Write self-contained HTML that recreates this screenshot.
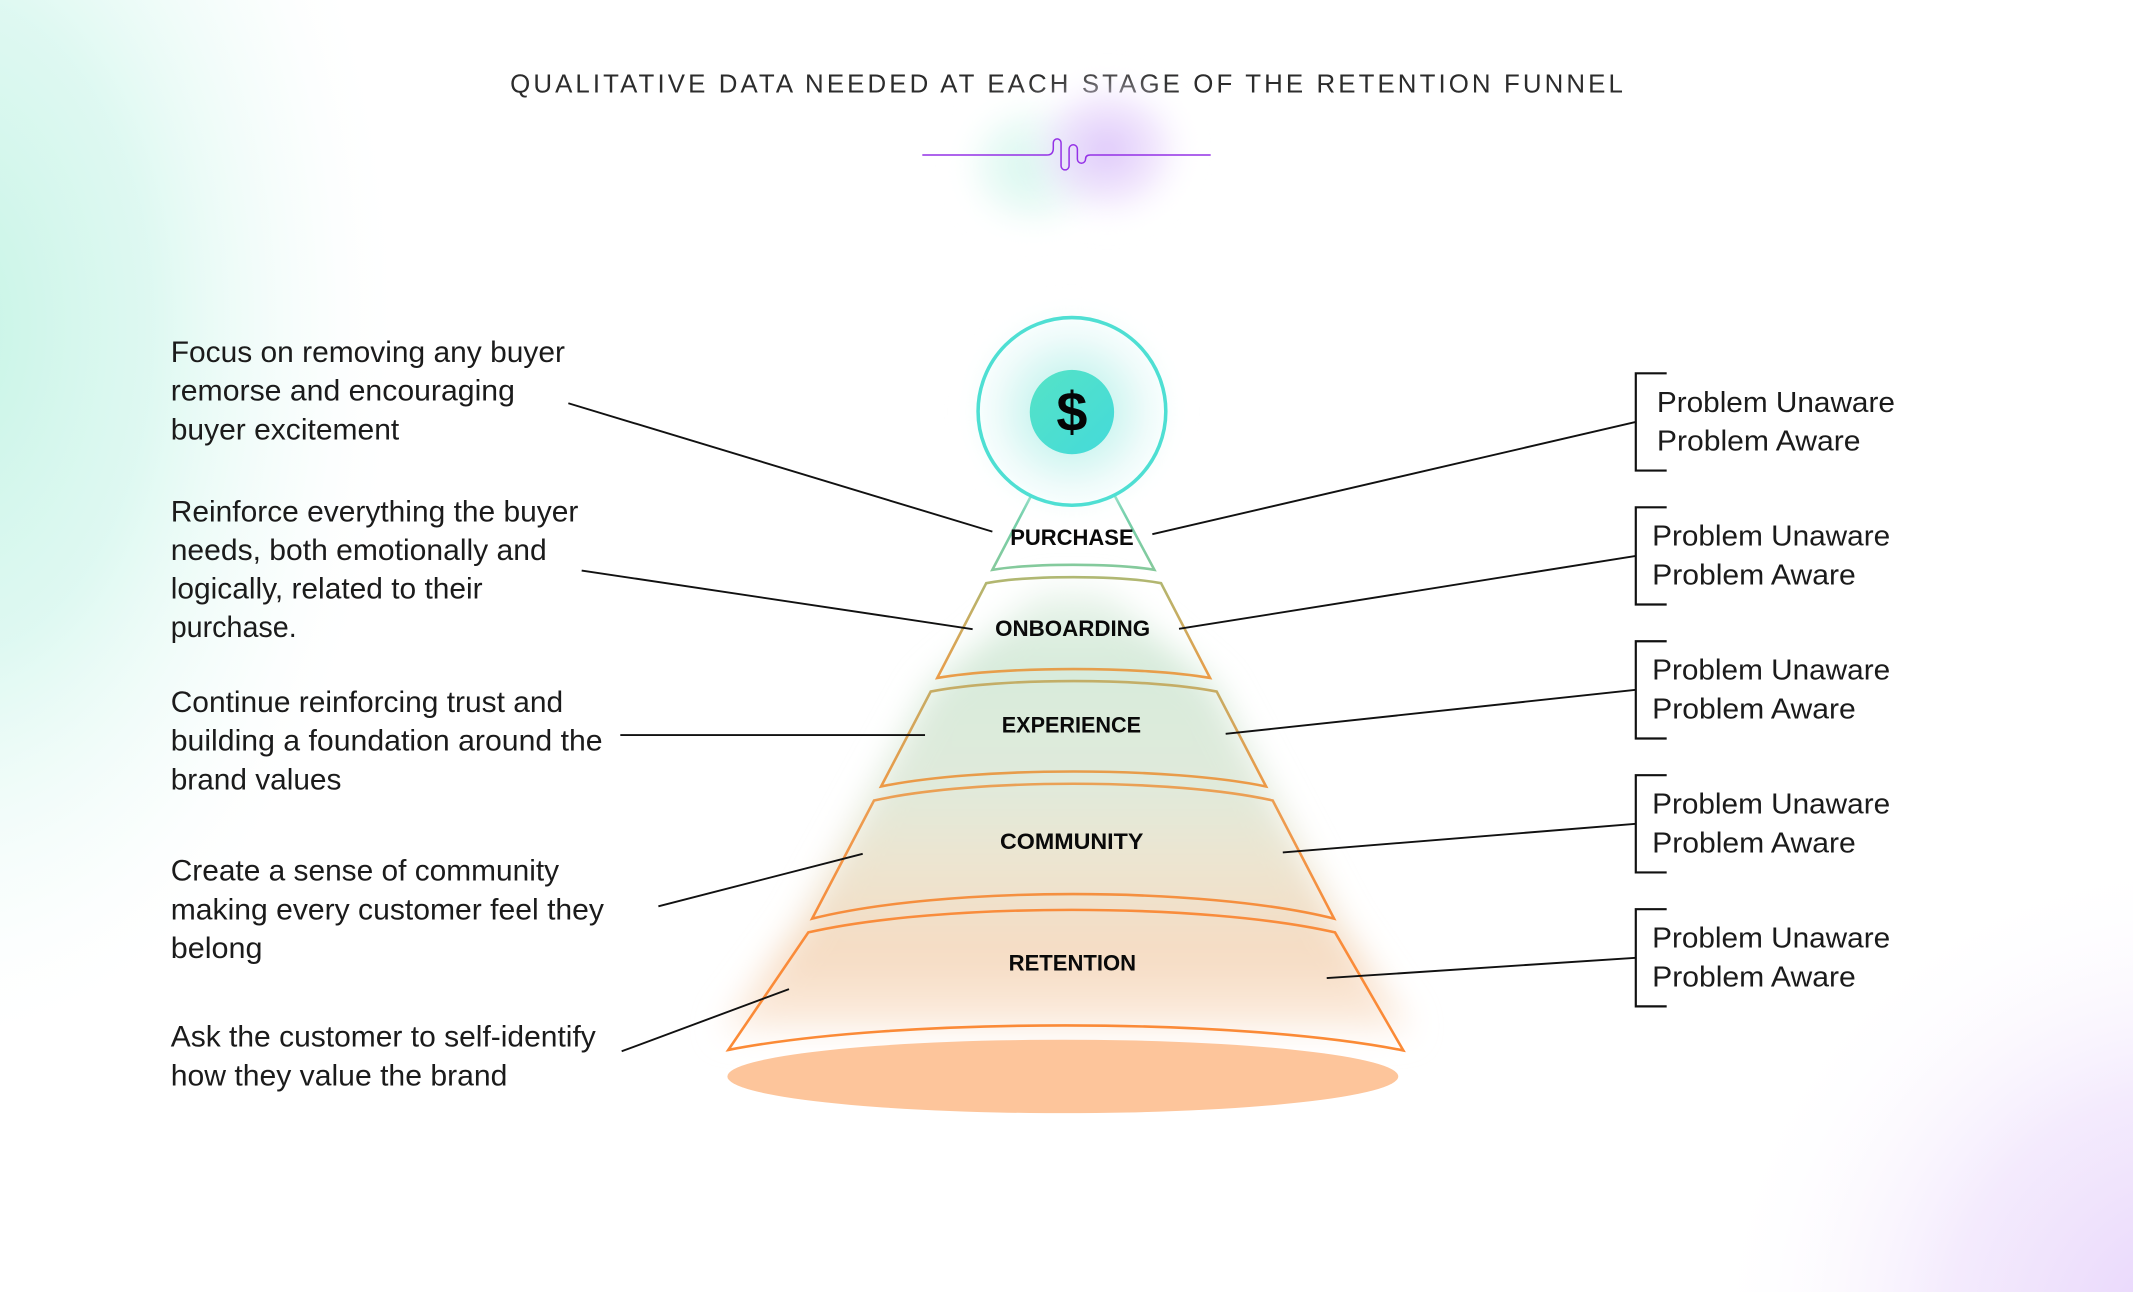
<!DOCTYPE html>
<html>
<head>
<meta charset="utf-8">
<style>
  html,body{margin:0;padding:0;background:#fff;width:2133px;height:1292px;overflow:hidden;}
  svg{display:block;position:absolute;left:0;top:0;}
  .lt{font-family:"Liberation Sans",Arial,sans-serif;font-size:21.5px;fill:#1b1b1b;}
  .rt{font-family:"Liberation Sans",Arial,sans-serif;font-size:21px;fill:#1b1b1b;}
  .lb{font-family:"Liberation Sans",Arial,sans-serif;font-size:16px;font-weight:bold;fill:#0a0a0a;}
</style>
</head>
<body>
<svg width="2133" height="1292" viewBox="0 0 1568 950" preserveAspectRatio="none" xmlns="http://www.w3.org/2000/svg">
  <defs>
    <radialGradient id="mint" gradientUnits="userSpaceOnUse" cx="-40" cy="240" r="340" gradientTransform="translate(-40,240) scale(1,1.59) translate(40,-240)">
      <stop offset="0" stop-color="#c6f4e5" stop-opacity="1"/>
      <stop offset="0.45" stop-color="#d6f7ee" stop-opacity="0.8"/>
      <stop offset="0.8" stop-color="#eefbf8" stop-opacity="0.35"/>
      <stop offset="1" stop-color="#ffffff" stop-opacity="0"/>
    </radialGradient>
    <radialGradient id="lav" gradientUnits="userSpaceOnUse" cx="1610" cy="980" r="355">
      <stop offset="0" stop-color="#e6d2fb" stop-opacity="1"/>
      <stop offset="0.5" stop-color="#efe2fc" stop-opacity="0.7"/>
      <stop offset="1" stop-color="#ffffff" stop-opacity="0"/>
    </radialGradient>
    <radialGradient id="gMint" cx="0.5" cy="0.5" r="0.5">
      <stop offset="0" stop-color="#d2f6ec" stop-opacity="0.95"/>
      <stop offset="0.55" stop-color="#e2f9f3" stop-opacity="0.7"/>
      <stop offset="1" stop-color="#ffffff" stop-opacity="0"/>
    </radialGradient>
    <radialGradient id="gPur" cx="0.5" cy="0.5" r="0.5">
      <stop offset="0" stop-color="#dcc4fa" stop-opacity="0.95"/>
      <stop offset="0.55" stop-color="#ebdcfc" stop-opacity="0.7"/>
      <stop offset="1" stop-color="#ffffff" stop-opacity="0"/>
    </radialGradient>
    <radialGradient id="circFill" cx="0.5" cy="0.5" r="0.5">
      <stop offset="0" stop-color="#b6efe9"/>
      <stop offset="0.45" stop-color="#d3f6f2"/>
      <stop offset="0.8" stop-color="#eefbfa"/>
      <stop offset="1" stop-color="#f8fefe"/>
    </radialGradient>
    <radialGradient id="circGlow" cx="0.5" cy="0.5" r="0.5">
      <stop offset="0.6" stop-color="#d8f6f2" stop-opacity="0.8"/>
      <stop offset="1" stop-color="#ffffff" stop-opacity="0"/>
    </radialGradient>
    <linearGradient id="dollar" x1="0" y1="0" x2="1" y2="1">
      <stop offset="0" stop-color="#55e3c6"/>
      <stop offset="1" stop-color="#44dada"/>
    </linearGradient>
    <linearGradient id="glowFill" gradientUnits="userSpaceOnUse" x1="0" y1="415" x2="0" y2="775">
      <stop offset="0" stop-color="#f2f9f3"/>
      <stop offset="0.2" stop-color="#d7ebdb"/>
      <stop offset="0.45" stop-color="#e0eadb"/>
      <stop offset="0.6" stop-color="#ece5d1"/>
      <stop offset="0.8" stop-color="#f6dcc3"/>
      <stop offset="0.92" stop-color="#fbe9da"/>
      <stop offset="1" stop-color="#ffffff"/>
    </linearGradient>
    <filter id="blur10" x="-30%" y="-30%" width="160%" height="160%">
      <feGaussianBlur stdDeviation="12"/>
    </filter>
    <filter id="blur6" x="-30%" y="-30%" width="160%" height="160%">
      <feGaussianBlur stdDeviation="6"/>
    </filter>
    <filter id="blur8" x="-50%" y="-50%" width="200%" height="200%">
      <feGaussianBlur stdDeviation="8"/>
    </filter>
    <linearGradient id="sP" gradientUnits="userSpaceOnUse" x1="0" y1="360" x2="0" y2="420">
      <stop offset="0" stop-color="#6cd3b2"/>
      <stop offset="1" stop-color="#86c99b"/>
    </linearGradient>
    <linearGradient id="sO" gradientUnits="userSpaceOnUse" x1="0" y1="423" x2="0" y2="499">
      <stop offset="0" stop-color="#aeb873"/>
      <stop offset="1" stop-color="#eb9c48"/>
    </linearGradient>
    <linearGradient id="sE" gradientUnits="userSpaceOnUse" x1="0" y1="500" x2="0" y2="579">
      <stop offset="0" stop-color="#c2ae68"/>
      <stop offset="1" stop-color="#ed9946"/>
    </linearGradient>
    <linearGradient id="sC" gradientUnits="userSpaceOnUse" x1="0" y1="576" x2="0" y2="676">
      <stop offset="0" stop-color="#eaa156"/>
      <stop offset="1" stop-color="#f78c3b"/>
    </linearGradient>
    <linearGradient id="sR" gradientUnits="userSpaceOnUse" x1="0" y1="669" x2="0" y2="773">
      <stop offset="0" stop-color="#f98c3c"/>
      <stop offset="1" stop-color="#fb8a36"/>
    </linearGradient>
  </defs>

  <!-- background -->
  <rect x="0" y="0" width="1568" height="950" fill="#ffffff"/>
  <rect x="0" y="0" width="1568" height="950" fill="url(#mint)"/>
  <rect x="0" y="0" width="1568" height="950" fill="url(#lav)"/>

  <!-- title -->
  <text x="375" y="68" textLength="818" lengthAdjust="spacing" font-family="'Liberation Sans Narrow','Liberation Sans',Arial,sans-serif" font-size="19" fill="#2c2c2c">QUALITATIVE DATA NEEDED AT EACH STAGE OF THE RETENTION FUNNEL</text>

  <!-- squiggle glow -->
  <ellipse cx="760" cy="122" rx="62" ry="56" fill="url(#gMint)" filter="url(#blur8)"/>
  <ellipse cx="814" cy="110" rx="66" ry="60" fill="url(#gPur)" filter="url(#blur8)"/>
  <!-- squiggle -->
  <path d="M678,114 H769.5 Q774.3,114 774.3,109 V105 A2.85,2.85 0 0 1 780,105 V122 A2.95,2.95 0 0 0 785.9,122 V109.5 A3.05,3.05 0 0 1 792,109.5 V117 A3,3 0 0 0 798,117 Q798,114 801.5,114 H890" fill="none" stroke="#9431e6" stroke-width="1.1"/>

  <!-- funnel glow -->
  <polygon points="765,435 812,435 893,505 935,585 985,680 1038,758 530,758 588,680 640,585 684,505" fill="url(#glowFill)" filter="url(#blur10)"/>

  <!-- base ellipse -->
  <ellipse cx="781.3" cy="791.5" rx="246.6" ry="27" fill="#fdc59b"/>

  <!-- layers -->
  <path d="M765.6,350 L729.5,419 C759.3,414.1 818.8,414.1 848.6,419 L811.7,350 Z" fill="none" stroke="url(#sP)" stroke-width="1.9" stroke-linejoin="miter"/>
  <path d="M725,428.8 C757.1,422.9 821.4,422.9 853.5,428.8 L889.5,498.5 C839.4,489.8 739.1,489.8 689,498.5 Z" fill="none" stroke="url(#sO)" stroke-width="1.9"/>
  <path d="M684.2,508.5 C736.75,498.2 841.85,498.2 894.4,508.5 L930.7,578.3 C859.95,563.6 718.45,563.6 647.7,578.3 Z" fill="none" stroke="url(#sE)" stroke-width="1.9"/>
  <path d="M642.5,588.6 C715.8,572.2 862.3,572.2 935.6,588.6 L980.7,675.5 C884.8,651.4 692.9,651.4 597,675.5 Z" fill="none" stroke="url(#sC)" stroke-width="1.9"/>
  <path d="M594.2,685.6 C691,663.5 884.6,663.5 981.4,685.6 L1031.6,772.4 C907.55,747.9 659.45,747.9 535.4,772 Z" fill="none" stroke="url(#sR)" stroke-width="1.9"/>

  <!-- top circle -->
  <circle cx="788" cy="302.5" r="84" fill="url(#circGlow)" filter="url(#blur6)"/>
  <circle cx="788" cy="302.5" r="69" fill="url(#circFill)" stroke="#4edfd3" stroke-width="2.6"/>
  <circle cx="788" cy="303" r="31" fill="url(#dollar)"/>
  <text x="788" y="317" text-anchor="middle" font-family="'Liberation Sans',Arial,sans-serif" font-weight="bold" font-size="41" fill="#050505">$</text>

  <!-- stage labels -->
  <text class="lb" x="788" y="400.7" text-anchor="middle" textLength="90.7" lengthAdjust="spacingAndGlyphs">PURCHASE</text>
  <text class="lb" x="788.5" y="467.5" text-anchor="middle" textLength="114" lengthAdjust="spacingAndGlyphs">ONBOARDING</text>
  <text class="lb" x="787.6" y="538.6" text-anchor="middle" textLength="102.4" lengthAdjust="spacingAndGlyphs">EXPERIENCE</text>
  <text class="lb" x="787.8" y="624.4" text-anchor="middle" textLength="105.4" lengthAdjust="spacingAndGlyphs">COMMUNITY</text>
  <text class="lb" x="788.3" y="713.6" text-anchor="middle" textLength="93.6" lengthAdjust="spacingAndGlyphs">RETENTION</text>

  <!-- left connectors -->
  <g stroke="#111" stroke-width="1.4" fill="none">
    <line x1="417.8" y1="296.5" x2="729.5" y2="390.9"/>
    <line x1="427.6" y1="419.5" x2="715" y2="462.6"/>
    <line x1="456" y1="540.5" x2="680" y2="540.5"/>
    <line x1="484" y1="666.4" x2="634.2" y2="627.8"/>
    <line x1="457" y1="773" x2="580" y2="727.3"/>
  </g>

  <!-- right connectors -->
  <g stroke="#111" stroke-width="1.4" fill="none">
    <line x1="847.1" y1="392.8" x2="1202.5" y2="310.25"/>
    <line x1="866.7" y1="462.4" x2="1202.5" y2="408.75"/>
    <line x1="901" y1="539.6" x2="1202.5" y2="507.25"/>
    <line x1="943" y1="626.8" x2="1202.5" y2="605.75"/>
    <line x1="975.3" y1="719.2" x2="1202.5" y2="704.25"/>
  </g>

  <!-- brackets -->
  <g stroke="#111" stroke-width="1.6" fill="none">
    <path d="M1225.2,274.5 H1202.5 V346 H1225.2"/>
    <path d="M1225.2,373 H1202.5 V444.5 H1225.2"/>
    <path d="M1225.2,471.5 H1202.5 V543 H1225.2"/>
    <path d="M1225.2,570 H1202.5 V641.5 H1225.2"/>
    <path d="M1225.2,668.5 H1202.5 V740 H1225.2"/>
  </g>

  <!-- right texts -->
  <text class="rt" x="1218" y="303" textLength="175" lengthAdjust="spacingAndGlyphs">Problem Unaware</text>
  <text class="rt" x="1218" y="331.4" textLength="149.7" lengthAdjust="spacingAndGlyphs">Problem Aware</text>
  <text class="rt" x="1214.5" y="401.2" textLength="175" lengthAdjust="spacingAndGlyphs">Problem Unaware</text>
  <text class="rt" x="1214.5" y="429.8" textLength="149.7" lengthAdjust="spacingAndGlyphs">Problem Aware</text>
  <text class="rt" x="1214.5" y="499.8" textLength="175" lengthAdjust="spacingAndGlyphs">Problem Unaware</text>
  <text class="rt" x="1214.5" y="528.4" textLength="149.7" lengthAdjust="spacingAndGlyphs">Problem Aware</text>
  <text class="rt" x="1214.5" y="598.3" textLength="175" lengthAdjust="spacingAndGlyphs">Problem Unaware</text>
  <text class="rt" x="1214.5" y="626.9" textLength="149.7" lengthAdjust="spacingAndGlyphs">Problem Aware</text>
  <text class="rt" x="1214.5" y="696.8" textLength="175" lengthAdjust="spacingAndGlyphs">Problem Unaware</text>
  <text class="rt" x="1214.5" y="725.4" textLength="149.7" lengthAdjust="spacingAndGlyphs">Problem Aware</text>

  <!-- left texts -->
  <text class="lt" x="125.5" y="266" textLength="289.8" lengthAdjust="spacingAndGlyphs">Focus on removing any buyer</text>
  <text class="lt" x="125.5" y="294.6" textLength="253" lengthAdjust="spacingAndGlyphs">remorse and encouraging</text>
  <text class="lt" x="125.5" y="323" textLength="168" lengthAdjust="spacingAndGlyphs">buyer excitement</text>

  <text class="lt" x="125.5" y="383.5" textLength="299.7" lengthAdjust="spacingAndGlyphs">Reinforce everything the buyer</text>
  <text class="lt" x="125.5" y="411.8" textLength="276.4" lengthAdjust="spacingAndGlyphs">needs, both emotionally and</text>
  <text class="lt" x="125.5" y="440" textLength="229.3" lengthAdjust="spacingAndGlyphs">logically, related to their</text>
  <text class="lt" x="125.5" y="468.2" textLength="92.6" lengthAdjust="spacingAndGlyphs">purchase.</text>

  <text class="lt" x="125.5" y="523.5" textLength="288.5" lengthAdjust="spacingAndGlyphs">Continue reinforcing trust and</text>
  <text class="lt" x="125.5" y="552" textLength="317.5" lengthAdjust="spacingAndGlyphs">building a foundation around the</text>
  <text class="lt" x="125.5" y="580.5" textLength="125.5" lengthAdjust="spacingAndGlyphs">brand values</text>

  <text class="lt" x="125.5" y="647.5" textLength="285.5" lengthAdjust="spacingAndGlyphs">Create a sense of community</text>
  <text class="lt" x="125.5" y="676" textLength="318.5" lengthAdjust="spacingAndGlyphs">making every customer feel they</text>
  <text class="lt" x="125.5" y="704.4" textLength="67.5" lengthAdjust="spacingAndGlyphs">belong</text>

  <text class="lt" x="125.5" y="769.5" textLength="312.5" lengthAdjust="spacingAndGlyphs">Ask the customer to self-identify</text>
  <text class="lt" x="125.5" y="798" textLength="247.5" lengthAdjust="spacingAndGlyphs">how they value the brand</text>
</svg>
</body>
</html>
